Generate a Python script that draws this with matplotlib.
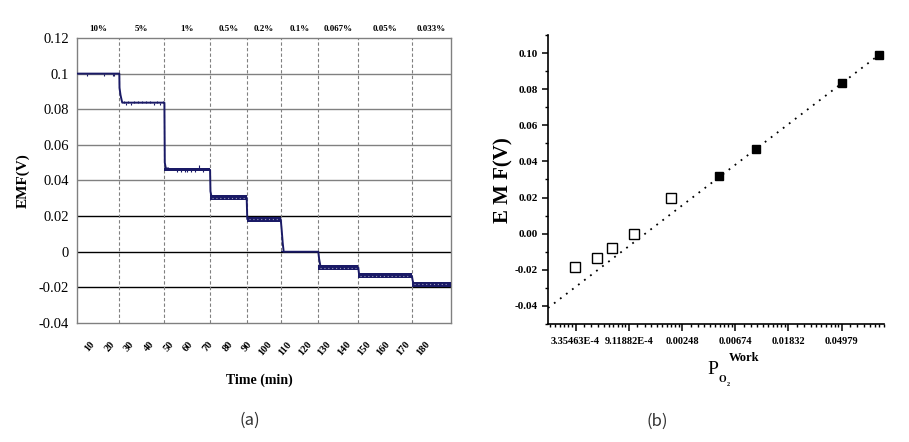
import numpy as np
import matplotlib
matplotlib.use("Agg")
import matplotlib.pyplot as plt
from matplotlib.ticker import FixedLocator, FixedFormatter, NullFormatter

# ---------------- data: panel (a) ----------------
o2_labels = ['10%', '5%', '1%', '0.5%', '0.2%', '0.1%', '0.067%', '0.05%', '0.033%']
seg_edges = [0, 21.5, 44.4, 67.6, 86.2, 103.5, 122.6, 142.9, 170.1, 190]
seg_levels = [0.100, 0.0837, 0.0460, 0.0304, 0.0183, 0.0000, -0.0089, -0.0135, -0.0182]
seg_spread = [0.0, 0.0, 0.0018, 0.0028, 0.0028, 0.0004, 0.0028, 0.0028, 0.0028]

trace_t = [0, 21.5, 21.6, 22.1, 22.6, 23.0, 44.4, 44.6, 45.0, 45.6, 67.6, 67.8, 68.4,
           86.2, 86.5, 103.5, 104.0, 104.5, 105.0, 122.6, 123.0, 123.8, 142.9, 143.4,
           170.1, 170.5, 171.0, 190]
trace_v = [0.100, 0.100, 0.092, 0.088, 0.0855, 0.0837, 0.0837, 0.050, 0.0475, 0.0460,
           0.0460, 0.034, 0.0304, 0.0304, 0.0183, 0.0183, 0.012, 0.005, 0.0, 0.0,
           -0.004, -0.0089, -0.0089, -0.0135, -0.0135, -0.016, -0.0182, -0.0182]

spike_t = [5, 13.7, 18.3, 18.8,
           24, 25, 26, 27.5, 29, 31, 33, 35, 37, 39, 40.5, 42, 43.5,
           45.5, 46.3, 51, 53, 55, 56, 58, 60, 62, 64]
spike_v = [0.0985, 0.0985, 0.0985, 0.0985,
           0.0848, 0.0825, 0.0848, 0.0825, 0.0848, 0.0848, 0.0848, 0.0848, 0.0848,
           0.0825, 0.0848, 0.0825, 0.0848,
           0.0475, 0.0475, 0.0447, 0.0447, 0.0447, 0.0447, 0.0447, 0.0447, 0.0485, 0.0447]
spike_base = [0.100] * 4 + [0.0837] * 13 + [0.0460] * 10

time_ticks = list(range(10, 190, 10))
emf_ticks = [0.12, 0.1, 0.08, 0.06, 0.04, 0.02, 0, -0.02, -0.04]
emf_tick_labels = ['0.12', '0.1', '0.08', '0.06', '0.04', '0.02', '0', '-0.02', '-0.04']

# ---------------- data: panel (b) ----------------
po2_filled = [0.1, 0.05, 0.01, 0.005]
emf_filled = [0.0990, 0.0833, 0.0467, 0.0317]
po2_open = [0.002, 0.001, 0.00067, 0.0005, 0.00033]
emf_open = [0.0197, 0.0000, -0.0082, -0.0135, -0.0182]
ln_major = [-8, -7, -6, -5, -4, -3]
po2_tick_labels = ['3.35463E-4', '9.11882E-4', '0.00248', '0.00674', '0.01832', '0.04979']

SERIF = ['Liberation Serif', 'DejaVu Serif']
plt.rcParams['font.family'] = SERIF
NAVY = '#1a1a66'

fig = plt.figure(figsize=(9.09, 4.42), dpi=100)

# ================= panel (a) =================
ax = fig.add_axes([77 / 909, 1 - 323 / 442, (451 - 77) / 909, (323 - 38) / 442])
ax.set_xlim(0, 190)
ax.set_ylim(-0.04, 0.12)
for s in ax.spines.values():
    s.set_color('#808080')
    s.set_linewidth(1.0)

for v in emf_ticks[1:-1]:
    ax.axhline(v, color='#808080' if v > 0.03 else 'black', lw=1.0, zorder=1)
for e in seg_edges[1:-1]:
    ax.axvline(e, color='#808080', lw=0.8, ls=(0, (3, 2)), zorder=1)

for i in range(len(seg_levels)):
    if seg_spread[i] > 0:
        x0, x1 = seg_edges[i], seg_edges[i + 1]
        ax.fill_between([x0, x1], seg_levels[i] - seg_spread[i] / 2,
                        seg_levels[i] + seg_spread[i] / 2, color=NAVY, lw=0, zorder=3)
        if seg_spread[i] > 0.002:
            ax.plot([x0 + 1, x1 - 1], [seg_levels[i]] * 2, color='white', lw=0.8,
                    ls=(0, (1, 2.5)), alpha=0.55, zorder=4)

ax.vlines(spike_t, spike_base, spike_v, color=NAVY, lw=0.8, zorder=3)
ax.plot(trace_t, trace_v, color=NAVY, lw=1.4, zorder=3)

ax.yaxis.set_major_locator(FixedLocator(emf_ticks))
ax.yaxis.set_major_formatter(FixedFormatter(emf_tick_labels))
ax.xaxis.set_major_locator(FixedLocator(time_ticks))
ax.xaxis.set_major_formatter(FixedFormatter([str(t) for t in time_ticks]))
ax.tick_params(axis='both', length=0)
ax.tick_params(axis='y', pad=6, labelsize=10.5)
ax.tick_params(axis='x', pad=12, labelsize=7.5)
for lab in ax.get_xticklabels():
    lab.set_fontweight('bold')
    lab.set_rotation(50)
    lab.set_ha('right')

for i, lab in enumerate(o2_labels):
    xc = (seg_edges[i] + seg_edges[i + 1]) / 2
    ax.text(xc, 1.03, lab, transform=ax.get_xaxis_transform(), ha='center', va='center',
            fontsize=6.5, fontweight='bold')

ax.set_ylabel('EMF(V)', fontsize=11, fontweight='bold', labelpad=6)
fig.text(259 / 909, 1 - 380 / 442, 'Time (min)', ha='center', va='center',
         fontsize=10, fontweight='bold')

# ================= panel (b) =================
bx = fig.add_axes([548 / 909, 1 - 324 / 442, (884 - 548) / 909, (324 - 35) / 442])
bx.set_xscale('log', base=np.e)
xlim = (np.exp(-8.52), np.exp(-2.205))
bx.set_xlim(*xlim)
bx.set_ylim(-0.05, 0.11)
bx.spines['top'].set_visible(False)
bx.spines['right'].set_visible(False)
for s in ('left', 'bottom'):
    bx.spines[s].set_linewidth(1.2)

coef = np.polyfit(np.log(po2_filled), emf_filled, 1)
xs = np.array(xlim)
bx.plot(xs, np.polyval(coef, np.log(xs)), color='black', lw=1.3, ls=(0, (1, 3.2)), zorder=2)
bx.plot(po2_filled, emf_filled, ls='none', marker='s', ms=6, mfc='black', mec='black', zorder=3)
bx.plot(po2_open, emf_open, ls='none', marker='s', ms=6.5, mfc='white', mec='black', mew=1.0, zorder=3)

major_x = np.exp(ln_major)
bx.xaxis.set_major_locator(FixedLocator(major_x))
bx.xaxis.set_major_formatter(FixedFormatter(po2_tick_labels))
minor_x = []
for n in range(-9, -2):
    a, b = np.exp(n), np.exp(n + 1)
    for k in range(1, 10):
        minor_x.append(a + k * (b - a) / 10)
minor_x = [m for m in minor_x if xlim[0] <= m <= xlim[1]]
bx.xaxis.set_minor_locator(FixedLocator(minor_x))
bx.xaxis.set_minor_formatter(NullFormatter())

ymaj = [-0.04, -0.02, 0.0, 0.02, 0.04, 0.06, 0.08, 0.10]
bx.yaxis.set_major_locator(FixedLocator(ymaj))
bx.yaxis.set_major_formatter(FixedFormatter([f'{v:.2f}' for v in ymaj]))
bx.yaxis.set_minor_locator(FixedLocator([-0.05, -0.03, -0.01, 0.01, 0.03, 0.05, 0.07, 0.09, 0.11]))
bx.tick_params(axis='both', which='major', direction='out', length=4, width=1.1, labelsize=8)
bx.tick_params(axis='both', which='minor', direction='out', length=2.5, width=1.0)
bx.tick_params(axis='x', which='major', length=5, pad=4, labelsize=7.5)
for lab in bx.get_xticklabels() + bx.get_yticklabels():
    lab.set_fontweight('bold')

fig.text(503 / 909, 1 - 180 / 442, 'E M F(V)', rotation=90, ha='center', va='center',
         fontsize=15, fontweight='bold')
fig.text(713 / 909, 1 - 369 / 442, 'P', ha='center', va='center', fontsize=14)
fig.text(722 / 909, 1 - 380 / 442, 'O', ha='center', va='center', fontsize=7,
         fontweight='bold')
fig.text(728 / 909, 1 - 384 / 442, '2', ha='center', va='center', fontsize=4.5,
         fontweight='bold')
fig.text(744 / 909, 1 - 358 / 442, 'Work', ha='center', va='center', fontsize=9,
         fontweight='bold')

# panel captions
fig.text(250 / 909, 1 - 420 / 442, '(a)', ha='center', va='center', fontsize=12,
         color='#333333', family=['Noto Sans CJK KR', 'DejaVu Sans'])
fig.text(657 / 909, 1 - 421 / 442, '(b)', ha='center', va='center', fontsize=12,
         color='#333333', family=['Noto Sans CJK KR', 'DejaVu Sans'])

fig.savefig('out.png', dpi=100)
